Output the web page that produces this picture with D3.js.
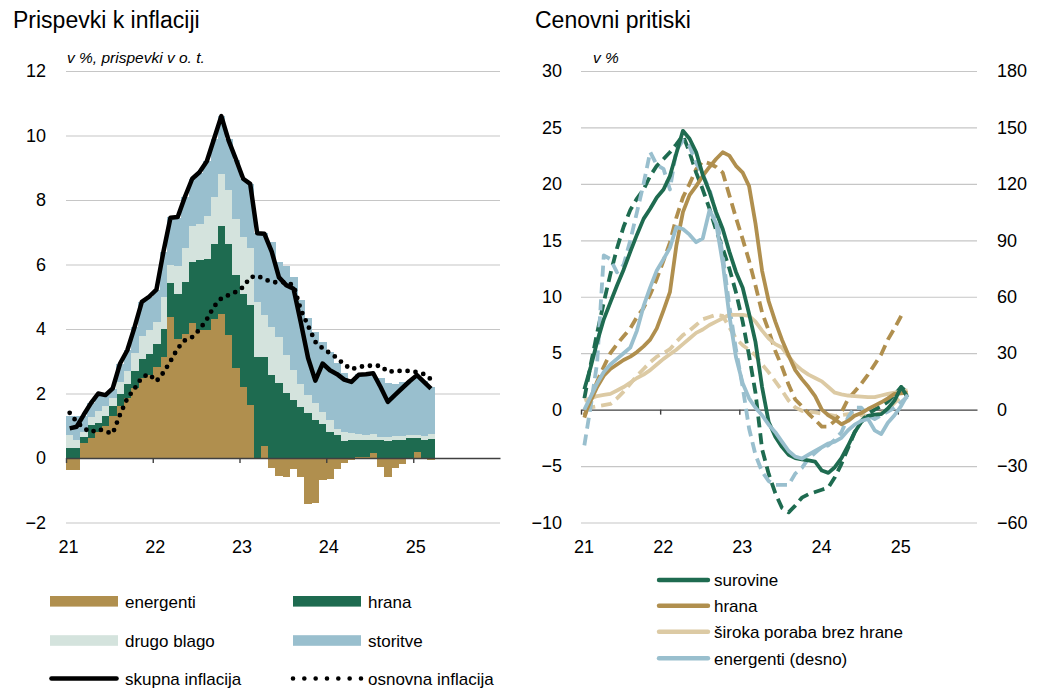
<!DOCTYPE html>
<html><head><meta charset="utf-8">
<script src="https://cdn.jsdelivr.net/npm/d3@7"></script>
<style>
body{margin:0;background:#fff;}
svg{font-family:"Liberation Sans",Arial,sans-serif;}
</style></head><body>
<svg id="c" width="1039" height="690"></svg>
<script>
// ---------- DATA: left chart (monthly, Jan 2021 – Mar 2025) ----------
const yearLabels = ["21","22","23","24","25"];
const leftTicks = [-2,0,2,4,6,8,10,12];
const energenti = [-0.37,-0.37,0.45,0.62,0.8,1.0,1.3,1.6,1.85,2.16,
  2.47,2.57,2.82,3.13,4.36,3.7,3.85,4.19,3.96,3.96,
  4.32,4.46,3.8,2.78,2.19,1.64,-0.03,0.37,-0.3,-0.55,
  -0.58,-0.35,-0.6,-1.43,-1.4,-0.68,-0.66,-0.35,-0.17,-0.06,
  0.03,0.03,0.14,-0.27,-0.58,-0.3,-0.18,-0.02,0.18,0.0,-0.05];
const hrana = [0.3,0.3,0.2,0.4,0.3,0.3,0.3,0.4,0.45,0.55,
  0.6,0.65,0.7,0.87,1.06,1.4,1.6,1.88,2.17,2.22,
  2.32,2.72,2.84,2.88,2.91,3.1,3.14,2.75,2.57,2.33,
  2.02,1.8,1.59,1.38,1.17,1.05,0.81,0.72,0.52,0.56,
  0.54,0.53,0.43,0.55,0.54,0.56,0.57,0.62,0.44,0.57,0.6];
const drugoBlago = [0.4,0.25,0.15,0.25,0.35,0.3,0.25,0.35,0.4,0.55,
  0.7,0.75,0.7,1.0,0.58,0.85,1.05,1.13,1.12,1.32,
  1.46,1.62,1.66,1.74,1.75,1.76,1.7,1.3,1.5,1.43,
  1.17,0.93,0.72,0.57,0.52,0.38,0.37,0.17,0.3,0.2,
  0.16,0.14,0.16,0.1,0.1,0.12,0.12,0.08,0.1,0.12,0.13];
const storitve = [0.6,0.75,0.5,0.43,0.55,0.35,0.3,0.55,0.65,0.8,
  1.07,1.03,1.0,1.4,1.47,1.5,1.6,1.46,1.6,1.7,
  1.8,1.8,1.6,1.85,1.8,2.0,2.13,2.55,2.63,2.32,
  2.76,2.87,2.58,2.38,2.22,2.17,2.12,2.06,1.83,1.69,
  1.87,1.9,1.8,1.82,1.7,1.62,1.68,1.7,1.83,1.69,1.47];
const skupna = [0.92,0.97,1.34,1.7,2.0,1.95,2.16,2.93,3.34,4.06,
  4.84,5.0,5.22,6.4,7.45,7.47,8.1,8.66,8.86,9.2,
  9.9,10.6,9.85,9.27,8.66,8.5,6.97,6.95,6.4,5.6,
  5.36,5.25,4.2,3.1,2.4,2.93,2.72,2.6,2.43,2.36,
  2.58,2.6,2.63,2.2,1.74,1.96,2.17,2.38,2.57,2.36,2.15];
const osnovna = [1.4,1.12,0.92,0.8,0.9,0.82,0.76,1.35,1.85,2.15,
  2.5,2.6,2.38,2.65,3.0,3.4,3.65,3.75,3.98,4.3,
  4.7,4.95,5.05,5.15,5.3,5.6,5.65,5.55,5.45,5.45,
  5.45,5.35,4.6,4.1,3.6,3.4,3.25,3.1,2.9,2.75,
  2.82,2.86,2.86,2.86,2.67,2.7,2.7,2.7,2.66,2.6,2.44];

// ---------- DATA: right chart (monthly, Jan 2021 – Feb 2025) ----------
const rightTicksL = [-10,-5,0,5,10,15,20,25,30];
const rightTicksR = [-60,-30,0,30,60,90,120,150,180];
const surovine = [1.8,3.8,6,8,9.5,11,12.4,14,15.5,16.9,
  17.8,18.8,19.5,20.7,22.7,24.7,24,22.8,20.8,19.3,
  17.5,16,14,12.2,10.8,8.5,6,2,-1.1,-2.4,
  -3.3,-4.0,-4.3,-4.4,-4.5,-4.6,-5.4,-5.6,-5.1,-4.3,
  -3.2,-2.0,-1.1,-0.55,-0.45,-0.4,0.1,0.8,2.0,1.1];
const surovineD = [1.0,4,6.8,9.5,12,14.3,16.2,17.7,18.7,19.5,
  20.7,21.6,22.2,22.8,23.5,24.3,22.8,21,19.5,17.8,
  15.9,14.3,12.5,10.4,7.8,4.8,1.5,-3.5,-5.7,-7.4,
  -8.7,-9.1,-8.5,-7.8,-7.5,-7.3,-7.1,-6.9,-6.0,-4.8,
  -3.4,-2.0,-1.0,-0.4,0.0,0.3,0.7,1.3,2.0,1.5];
const hranaR = [-0.5,0.8,2,3,3.6,4.0,4.4,4.7,5.1,5.6,
  6.2,7.2,8.8,10.4,14.5,17.5,19,19.8,20.7,21.5,
  22.2,22.8,22.5,21.6,21.0,19.8,16.5,12.3,9.6,7.8,
  6.2,4.8,3.5,2.7,2.0,1.2,0.0,-0.5,-0.85,-1.3,
  -1.0,-0.55,-0.3,0.05,0.35,0.65,1.0,1.4,1.45,1.5];
const hranaRD = [-0.7,1.0,2.5,3.8,5.0,5.8,6.5,7.2,8.2,9.0,
  10.2,11.6,13.2,14.8,17,18.8,20,21.3,22,21.8,
  21.5,21,19,17,15.1,13.2,11.0,8.6,7.0,5.2,
  3.8,2.2,0.9,0.3,-0.35,-0.9,-1.5,-1.5,-1.0,-0.25,
  0.95,1.6,2.3,3.1,4.0,4.9,6.2,7.2,8.3,null];
const siroka = [0.8,1.0,1.2,1.3,1.4,1.7,2.0,2.4,2.8,3.1,
  3.5,4.0,4.5,4.9,5.3,5.8,6.3,6.8,7.1,7.5,
  7.8,8.1,8.4,8.4,8.4,8.3,7.8,7.0,6.3,5.8,
  5.5,4.7,4.0,3.5,3.1,2.8,2.5,2.0,1.5,1.35,
  1.25,1.2,1.15,1.1,1.1,1.25,1.4,1.5,1.6,1.7];
const sirokaD = [0.1,0.2,0.3,0.4,0.5,1.0,1.6,2.3,3.0,3.6,
  4.2,4.7,5.0,5.35,6.0,6.6,7.0,7.5,8.0,8.2,
  8.4,8.3,7.3,6.3,5.7,5.3,4.8,4.0,3.3,2.5,
  1.7,0.8,0.2,-0.1,-0.2,-0.25,-0.35,-0.45,-0.55,-0.5,
  -0.4,-0.4,-0.5,-0.55,-0.5,-0.3,0.0,0.6,1.1,1.5];
const energentiR = [0,7,14,20,24,27,30,33,42,55,
  65,74,80,86,97,96,93,89,91,106,
  99,78,50,28,14,6,1,-3,-8,-12,
  -17,-22,-25,-26,-24,-22,-20,-18,-17,-15,
  -11,-8,-6,-5,-11,-13,-7,-3,2,8];
const energentiRD = [-19,2,25,82,80,73,77,90,105,120,
  137,130,128,117,138,143,140,131,125,117,
  104,82,55,32,12,-10,-24,-33,-38,-40,
  -40,-40,-34,-31,-26,-23,-20,-19,-16,-12,
  -4,1,1,-3,-5,-3,-1,1,4,7];

// ---------- COLOURS ----------
const C = {brown:"#B08F4E", green:"#1E6B50", light:"#D4E3DD", blue:"#99BFCE", beige:"#DCCAA4", grid:"#c6c6c6", axis:"#404040"};

const svg = d3.select("#c");
const yearDates = d3.range(2021, 2026).map(y => new Date(y, 0, 1));

// pick a narrow face for tick numbers if available
let tickFont = "Liberation Sans Narrow, Arial Narrow, Liberation Sans, Arial, sans-serif";
let tickSize = 20;
{
  const t = svg.append("text").attr("font-family", "Liberation Sans Narrow").attr("font-size", 20).text("1234567890");
  const tw = t.node().getComputedTextLength();
  t.remove();
  if (tw > 98) { tickFont = "Liberation Sans, Arial, sans-serif"; tickSize = 18; }
}
const styleTicks = sel => sel.selectAll("text").attr("font-size", tickSize).attr("fill", "#000").attr("font-family", tickFont);

// ===================== LEFT CHART =====================
const monthsL = d3.timeMonth.range(new Date(2021,0,1), new Date(2025,3,1));
const xL = d3.scaleTime().domain([new Date(2021,0,1), new Date(2026,0,1)]).range([66, 500]);
const yL = d3.scaleLinear().domain([-2, 12]).range([522.5, 71]);
const midL = d => (xL(d) + xL(d3.timeMonth.offset(d, 1))) / 2;

const gGridL = svg.append("g").attr("transform", "translate(66,0)")
  .call(d3.axisLeft(yL).tickValues(leftTicks.filter(v => v !== 0)).tickSize(-434).tickFormat(""));
gGridL.select(".domain").remove();
gGridL.selectAll("line").attr("stroke", C.grid).attr("stroke-width", 1.2);

const gYL = svg.append("g").attr("transform", "translate(66,0)")
  .call(d3.axisLeft(yL).tickValues(leftTicks).tickSize(0).tickPadding(20).tickFormat(d3.format("d")));
gYL.select(".domain").remove();
styleTicks(gYL);

const rowsL = monthsL.map((m, i) => ({date: m, energenti: energenti[i], hrana: hrana[i], drugo: drugoBlago[i], storitve: storitve[i]}));
const keys = ["energenti", "hrana", "drugo", "storitve"];
const fills = {energenti: C.brown, hrana: C.green, drugo: C.light, storitve: C.blue};
const stacked = d3.stack().keys(keys).offset(d3.stackOffsetDiverging)(rowsL);
svg.append("g").selectAll("g").data(stacked).join("g")
  .attr("fill", s => fills[s.key]).attr("shape-rendering", "crispEdges")
  .selectAll("rect").data(s => s).join("rect")
  .attr("x", d => xL(d.data.date))
  .attr("width", d => xL(d3.timeMonth.offset(d.data.date, 1)) - xL(d.data.date) + 0.4)
  .attr("y", d => yL(Math.max(d[0], d[1])))
  .attr("height", d => Math.abs(yL(d[0]) - yL(d[1])));

const gZL = svg.append("g").attr("transform", `translate(0,${yL(0)})`)
  .call(d3.axisBottom(xL).tickValues(yearDates).tickSize(5).tickSizeOuter(0).tickFormat(""));
gZL.selectAll("path,line").attr("stroke", C.axis).attr("stroke-width", 1.4);

const gXL = svg.append("g").attr("transform", "translate(2,537)")
  .call(d3.axisBottom(xL).tickValues(yearDates).tickSize(0).tickPadding(3).tickFormat((d, i) => yearLabels[i]));
gXL.select(".domain").remove();
styleTicks(gXL);

const lineL = d3.line().x((d, i) => midL(monthsL[i])).y(d => yL(d));
svg.append("path").datum(skupna).attr("d", lineL).attr("fill", "none")
  .attr("stroke", "#000").attr("stroke-width", 4.5).attr("stroke-linejoin", "round");
svg.append("path").datum(osnovna).attr("d", lineL).attr("fill", "none")
  .attr("stroke", "#000").attr("stroke-width", 4.8).attr("stroke-linecap", "round")
  .attr("stroke-dasharray", "0,8");

// ===================== RIGHT CHART =====================
const monthsR = d3.timeMonth.range(new Date(2021,0,1), new Date(2025,2,1));
const xR = d3.scaleTime().domain([new Date(2021,0,1), new Date(2026,0,1)]).range([581, 977]);
const yR = d3.scaleLinear().domain([-10, 30]).range([522.5, 71]);
const yR2 = d3.scaleLinear().domain([-60, 180]).range([522.5, 71]);
const midR = d => (xR(d) + xR(d3.timeMonth.offset(d, 1))) / 2;

const gGridR = svg.append("g").attr("transform", "translate(581,0)")
  .call(d3.axisLeft(yR).tickValues(rightTicksL.filter(v => v !== 0)).tickSize(-396).tickFormat(""));
gGridR.select(".domain").remove();
gGridR.selectAll("line").attr("stroke", C.grid).attr("stroke-width", 1.2);

const gYR = svg.append("g").attr("transform", "translate(581,0)")
  .call(d3.axisLeft(yR).tickValues(rightTicksL).tickSize(0).tickPadding(19).tickFormat(d3.format("d")));
gYR.select(".domain").remove();
styleTicks(gYR);

const gYR2 = svg.append("g").attr("transform", "translate(977,0)")
  .call(d3.axisRight(yR2).tickValues(rightTicksR).tickSize(0).tickPadding(20).tickFormat(d3.format("d")));
gYR2.select(".domain").remove();
styleTicks(gYR2);

const gZR = svg.append("g").attr("transform", `translate(0,${yR(0)})`)
  .call(d3.axisBottom(xR).tickValues(yearDates).tickSize(5).tickSizeOuter(0).tickFormat(""));
gZR.selectAll("path,line").attr("stroke", C.axis).attr("stroke-width", 1.4);

const gXR = svg.append("g").attr("transform", "translate(2.5,537)")
  .call(d3.axisBottom(xR).tickValues(yearDates).tickSize(0).tickPadding(3).tickFormat((d, i) => yearLabels[i]));
gXR.select(".domain").remove();
styleTicks(gXR);

const mkLine = sc => d3.line().defined(d => d != null).x((d, i) => midR(monthsR[i])).y(d => sc(d));
const seriesR = [
  {v: sirokaD, c: C.beige, dash: true, s: yR},
  {v: hranaRD, c: C.brown, dash: true, s: yR},
  {v: surovineD, c: C.green, dash: true, s: yR},
  {v: energentiRD, c: C.blue, dash: true, s: yR2},
  {v: siroka, c: C.beige, dash: false, s: yR},
  {v: hranaR, c: C.brown, dash: false, s: yR},
  {v: surovine, c: C.green, dash: false, s: yR},
  {v: energentiR, c: C.blue, dash: false, s: yR2}
];
svg.append("g").selectAll("path").data(seriesR).join("path")
  .attr("d", d => mkLine(d.s)(d.v))
  .attr("fill", "none").attr("stroke", d => d.c).attr("stroke-width", 3.8)
  .attr("stroke-linejoin", "round")
  .attr("stroke-dasharray", d => d.dash ? "11,6" : null);

// ===================== TITLES =====================
svg.append("text").attr("x", 13).attr("y", 28).attr("font-size", 23).text("Prispevki k inflaciji");
svg.append("text").attr("x", 535).attr("y", 28).attr("font-size", 23).text("Cenovni pritiski");
svg.append("text").attr("x", 67).attr("y", 62.5).attr("font-size", 15.5).attr("font-style", "italic").text("v %, prispevki v o. t.");
svg.append("text").attr("x", 593).attr("y", 62.5).attr("font-size", 15.5).attr("font-style", "italic").text("v %");

// ===================== LEGENDS =====================
const legL = [
  {t: "energenti", type: "rect", c: C.brown, x: 50, y: 601.3},
  {t: "hrana", type: "rect", c: C.green, x: 293, y: 601.3},
  {t: "drugo blago", type: "rect", c: C.light, x: 50, y: 640.5},
  {t: "storitve", type: "rect", c: C.blue, x: 293, y: 640.5},
  {t: "skupna inflacija", type: "solid", c: "#000", x: 50, y: 678.5},
  {t: "osnovna inflacija", type: "dot", c: "#000", x: 293, y: 678.5}
];
const gLL = svg.append("g");
legL.forEach(l => {
  if (l.type === "rect") {
    gLL.append("rect").attr("x", l.x).attr("y", l.y - 5.3).attr("width", 68).attr("height", 10.6).attr("fill", l.c);
  } else if (l.type === "solid") {
    gLL.append("line").attr("x1", l.x + 1.5).attr("x2", l.x + 66.5).attr("y1", l.y).attr("y2", l.y)
      .attr("stroke", l.c).attr("stroke-width", 4.6).attr("stroke-linecap", "round");
  } else {
    gLL.append("line").attr("x1", l.x).attr("x2", l.x + 68.1).attr("y1", l.y).attr("y2", l.y)
      .attr("stroke", l.c).attr("stroke-width", 4.6).attr("stroke-linecap", "round").attr("stroke-dasharray", "0,11.33");
  }
  gLL.append("text").attr("x", l.x + 75).attr("y", l.y + 6.2).attr("font-size", 17).text(l.t);
});

const legR = [
  {t: "surovine", c: C.green, y: 580},
  {t: "hrana", c: C.brown, y: 605.8},
  {t: "široka poraba brez hrane", c: C.beige, y: 631.8},
  {t: "energenti (desno)", c: C.blue, y: 658.3}
];
const gLR = svg.append("g");
legR.forEach(l => {
  gLR.append("line").attr("x1", 659).attr("x2", 708).attr("y1", l.y).attr("y2", l.y)
    .attr("stroke", l.c).attr("stroke-width", 4.4).attr("stroke-linecap", "round");
  gLR.append("text").attr("x", 714).attr("y", l.y + 6.2).attr("font-size", 17).text(l.t);
});
</script>
</body></html>
